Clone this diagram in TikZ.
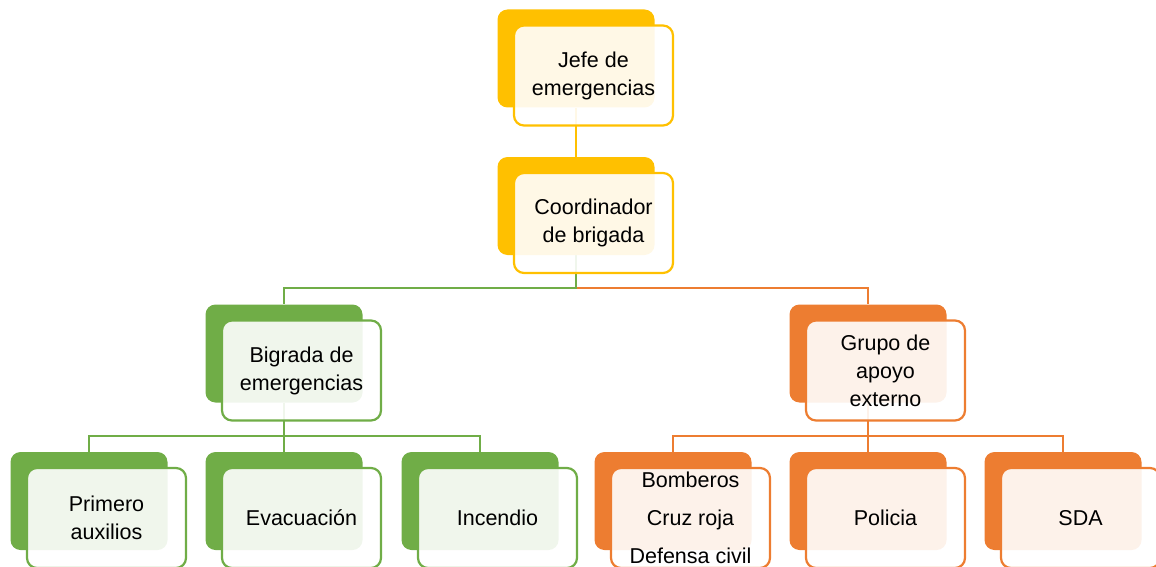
\documentclass[tikz,border=0pt]{standalone}
\usepackage{fontspec}
\setmainfont{Liberation Sans}
\usetikzlibrary{backgrounds}
\definecolor{cyel}{HTML}{FFC000}
\definecolor{cgrn}{HTML}{70AD47}
\definecolor{corg}{HTML}{ED7D31}
\tikzset{
  backbox/.style={rectangle, minimum width=157pt, minimum height=98pt, inner sep=0pt, fill=#1, rounded corners=10pt},
  frontbox/.style={rectangle, minimum width=159pt, minimum height=100pt, inner sep=0pt, draw=#1, line width=2.2pt, fill=white, fill opacity=0.9, text opacity=1, rounded corners=10pt, align=center, font=\fontsize{21.5}{28}\selectfont, xshift=17.5pt, yshift=-17pt},
  conn/.style={line width=2.2pt, draw=#1},
}
\begin{document}
\begin{tikzpicture}[x=1pt,y=-1pt]
\useasboundingbox (0,0) rectangle (1156,567);
\clip (0,0) rectangle (1156,567);
% level 0
\node[backbox=cyel] (jB) at (576,58.5) {};
\node[frontbox=cyel] (jF) at (jB.center) {Jefe de\\emergencias};
% level 1
\node[backbox=cyel] (cB) at (576,206) {};
\node[frontbox=cyel] (cF) at (cB.center) {Coordinador\\de brigada};
% level 2
\node[backbox=cgrn] (bgB) at (284,353.5) {};
\node[frontbox=cgrn] (bgF) at (bgB.center) {Bigrada de\\emergencias};
\node[backbox=corg] (gaB) at (868,353.5) {};
\node[frontbox=corg] (gaF) at (gaB.center) {Grupo de\\apoyo\\externo};
% level 3
\node[backbox=cgrn] (p1B) at (89,501) {};
\node[frontbox=cgrn] (p1F) at (p1B.center) {Primero\\auxilios};
\node[backbox=cgrn] (evB) at (284,501) {};
\node[frontbox=cgrn] (evF) at (evB.center) {Evacuación};
\node[backbox=cgrn] (inB) at (480,501) {};
\node[frontbox=cgrn] (inF) at (inB.center) {Incendio};
\node[backbox=corg] (boB) at (673,501) {};
\node[frontbox=corg] (boF) at (boB.center) {Bomberos\\[10pt]Cruz roja\\[10pt]Defensa civil};
\node[backbox=corg] (poB) at (868,501) {};
\node[frontbox=corg] (poF) at (poB.center) {Policia};
\node[backbox=corg] (sdB) at (1063,501) {};
\node[frontbox=corg] (sdF) at (sdB.center) {SDA};
% connectors
\begin{scope}[on background layer]
\draw[conn=cyel] (jB.south) -- (cB.north);
\draw[conn=corg] (cB.south) -- ++(0,33) -| (gaB.north);
\draw[conn=cgrn] (cB.south) -- ++(0,33) -| (bgB.north);
\draw[conn=cgrn] (bgB.south) -- ++(0,33.5) -| (p1B.north);
\draw[conn=cgrn] (bgB.south) -- ++(0,33.5) -| (evB.north);
\draw[conn=cgrn] (bgB.south) -- ++(0,33.5) -| (inB.north);
\draw[conn=corg] (gaB.south) -- ++(0,33.5) -| (boB.north);
\draw[conn=corg] (gaB.south) -- ++(0,33.5) -| (poB.north);
\draw[conn=corg] (gaB.south) -- ++(0,33.5) -| (sdB.north);
\end{scope}
\end{tikzpicture}
\end{document}
